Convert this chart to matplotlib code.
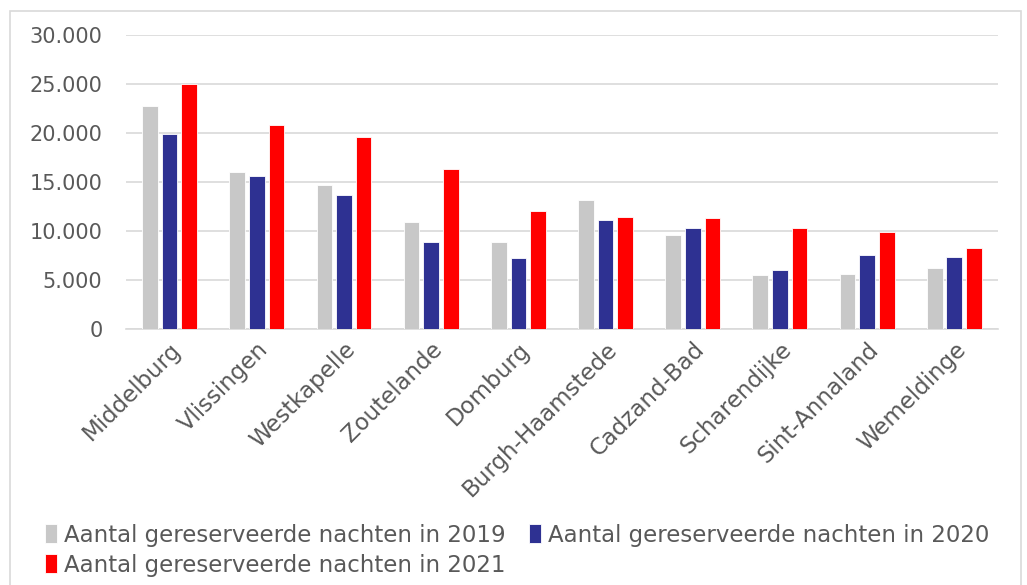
import numpy as np
import matplotlib.pyplot as plt
from matplotlib.patches import Rectangle

# data
places = ['Middelburg', 'Vlissingen', 'Westkapelle', 'Zoutelande', 'Domburg',
          'Burgh-Haamstede', 'Cadzand-Bad', 'Scharendijke', 'Sint-Annaland', 'Wemeldinge']
nights_2019 = [22700, 16000, 14700, 10900, 8850, 13150, 9650, 5550, 5600, 6300]
nights_2020 = [19900, 15650, 13650, 8900, 7250, 11100, 10300, 6100, 7550, 7350]
nights_2021 = [24950, 20850, 19550, 16300, 12050, 11400, 11350, 10350, 9900, 8300]
series_labels = ['Aantal gereserveerde nachten in 2019',
                 'Aantal gereserveerde nachten in 2020',
                 'Aantal gereserveerde nachten in 2021']
colors = ['#C8C8C8', '#2E3192', '#FF0000']
yticks = [0, 5000, 10000, 15000, 20000, 25000, 30000]

plt.rcParams['font.family'] = ['DejaVu Sans']
text_color = '#595959'

fig = plt.figure(figsize=(10.27, 5.85), dpi=100)
ax = fig.add_axes([0.1227, 0.4368, 0.849, 0.504])

# outer chart border
fig.patches.append(Rectangle((10 / 1027, -0.05), 1011 / 1027, 1.05 - 11 / 585,
                             transform=fig.transFigure, fill=False,
                             edgecolor='#D9D9D9', linewidth=1.2))

x = np.arange(len(places))
width = 0.18
step = 0.225
bars = []
for i, (vals, lab, col) in enumerate(zip([nights_2019, nights_2020, nights_2021],
                                        series_labels, colors)):
    b = ax.bar(x + (i - 1) * step, vals, width, color=col, label=lab,
               edgecolor='white', linewidth=0.6, zorder=3)
    bars.append(b)

ax.set_xlim(-0.5, len(places) - 0.5)
ax.set_ylim(0, 30000)
ax.set_yticks(yticks)
ax.set_yticklabels([f'{v:,}'.replace(',', '.') for v in yticks])
ax.yaxis.grid(True, color='#D9D9D9', linewidth=1.2, zorder=0)
ax.set_axisbelow(True)
for s in ['top', 'right', 'left']:
    ax.spines[s].set_visible(False)
ax.spines['bottom'].set_color('#D9D9D9')
ax.spines['bottom'].set_linewidth(1.2)
ax.tick_params(axis='y', length=0, labelsize=15, colors=text_color, pad=17)
ax.set_xticks(x)
ax.set_xticklabels(places, rotation=45, ha='right', rotation_mode='anchor')
ax.tick_params(axis='x', length=0, labelsize=16.5, colors=text_color, pad=6)

# row-major legend order: 2019, 2020 on first row, 2021 on second
order = [0, 2, 1]
fig.legend([bars[k] for k in order], [series_labels[k] for k in order],
           loc='lower left', bbox_to_anchor=(0.03, -0.009),
           ncol=2, frameon=False, fontsize=16.5, labelcolor=text_color,
           handlelength=0.55, handleheight=0.9, handletextpad=0.3,
           columnspacing=1.0, labelspacing=0.3, borderaxespad=0.2)

fig.savefig('out.png', dpi=100)
